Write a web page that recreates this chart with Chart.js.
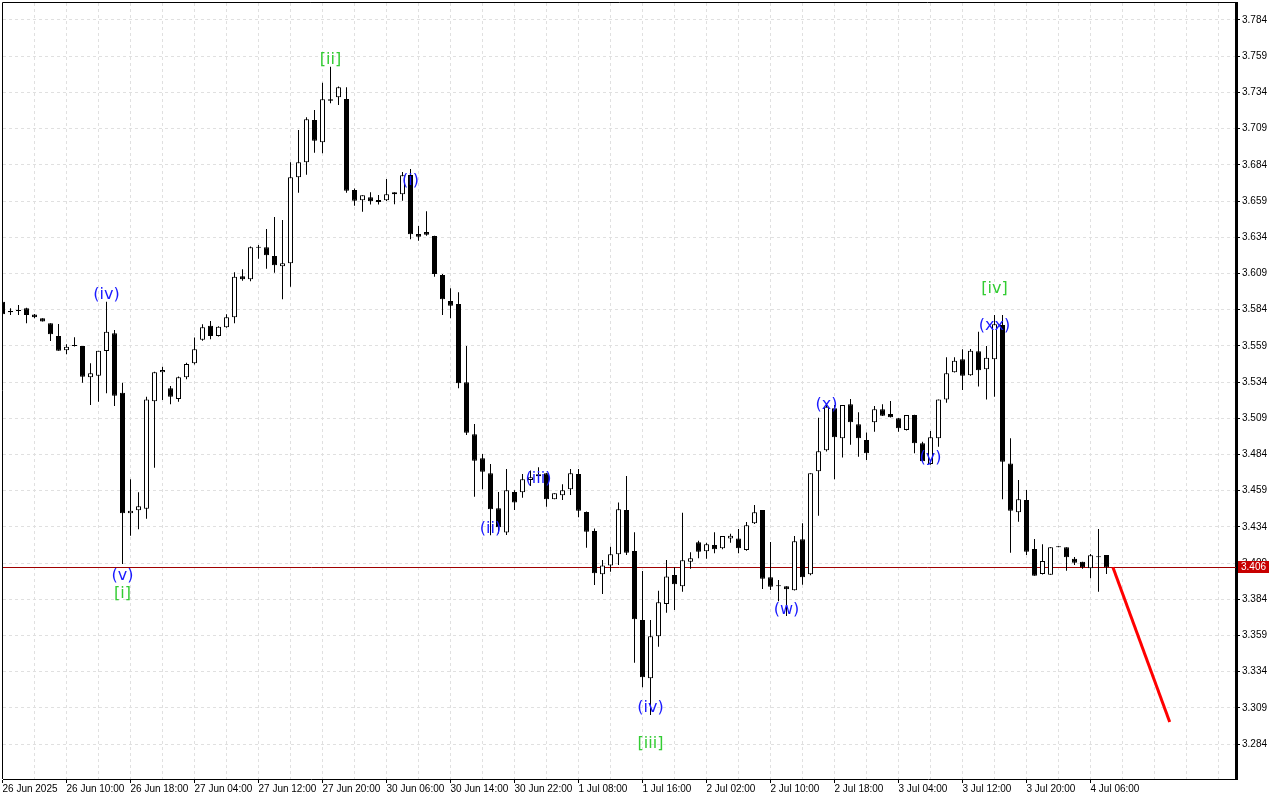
<!DOCTYPE html>
<html><head><meta charset="utf-8">
<script src="https://cdn.jsdelivr.net/npm/chart.js@4.4.1/dist/chart.umd.min.js"></script>
<style>html,body{margin:0;padding:0;background:#fff;}canvas{display:block;}</style>
</head><body>
<canvas id="c" width="1280" height="800"></canvas>
<script>
const opens = [3.5895,3.5822,3.5830,3.5849,3.5807,3.5780,3.5745,3.5658,3.5559,3.5589,
 3.5589,3.5373,3.5383,3.5554,3.5676,3.5266,3.4433,3.4454,3.4465,3.5207,
 3.5407,3.5297,3.5223,3.5373,3.5469,3.5631,3.5729,3.5658,3.5718,3.5787,
 3.6070,3.6049,3.6268,3.6270,3.6210,3.6139,3.6160,3.6754,3.6857,3.7149,
 3.6995,3.7292,3.7306,3.7294,3.6666,3.6595,3.6616,3.6597,3.6595,3.6636,
 3.6636,3.6770,3.6362,3.6376,3.6348,3.6079,3.5899,3.5879,3.5338,3.4979,
 3.4813,3.4709,3.4468,3.4300,3.4580,3.4578,3.4663,3.4689,3.4709,3.4530,
 3.4558,3.4599,3.4705,3.4442,3.4311,3.4012,3.4072,3.4150,3.4456,3.4173,
 3.3696,3.3294,3.3584,3.3807,3.4007,3.3929,3.4099,3.4233,3.4171,3.4214,
 3.4192,3.4260,3.4260,3.4180,3.4364,3.4456,3.3991,3.3929,3.3929,3.3902,
 3.4254,3.4012,3.4723,3.4868,3.5158,3.4951,3.5186,3.5048,3.4939,3.5062,
 3.5151,3.5119,3.5089,3.5009,3.5112,3.4917,3.4774,3.4951,3.5220,3.5407,
 3.5497,3.5386,3.5552,3.5428,3.5497,3.5734,3.4778,3.4440,3.4525,3.4187,
 3.4014,3.4009,3.4198,3.4198,3.4120,3.4099,3.4053,3.4129,3.4145];
const highs = [3.5910,3.5849,3.5872,3.5852,3.5810,3.5780,3.5745,3.5740,3.5600,3.5649,
 3.5589,3.5469,3.5556,3.5895,3.5699,3.5335,3.4668,3.4578,3.5238,3.5410,
 3.5446,3.5312,3.5378,3.5473,3.5647,3.5739,3.5761,3.5725,3.5808,3.6098,
 3.6118,3.6275,3.6286,3.6397,3.6480,3.6459,3.6857,3.7080,3.7168,3.7218,
 3.7407,3.7518,3.7380,3.7375,3.6677,3.6629,3.6650,3.6631,3.6742,3.6650,
 3.6790,3.6811,3.6417,3.6519,3.6350,3.6085,3.5987,3.5960,3.5589,3.5050,
 3.4843,3.4774,3.4580,3.4739,3.4592,3.4705,3.4728,3.4751,3.4712,3.4571,
 3.4633,3.4739,3.4739,3.4445,3.4329,3.4111,3.4203,3.4507,3.4691,3.4302,
 3.4035,3.3696,3.3899,3.4111,3.4060,3.4437,3.4164,3.4244,3.4230,3.4302,
 3.4276,3.4292,3.4325,3.4373,3.4491,3.4456,3.4235,3.3973,3.3929,3.4276,
 3.4364,3.4709,3.5093,3.5181,3.5181,3.5181,3.5223,3.5131,3.4992,3.5174,
 3.5186,3.5209,3.5092,3.5112,3.5114,3.4928,3.5002,3.5220,3.5511,3.5511,
 3.5566,3.5568,3.5687,3.5589,3.5803,3.5803,3.4951,3.4663,3.4594,3.4256,
 3.4219,3.4198,3.4198,3.4198,3.4131,3.4099,3.4153,3.4325,3.4145];
const lows = [3.5800,3.5803,3.5803,3.5745,3.5780,3.5757,3.5623,3.5556,3.5531,3.5585,
 3.5335,3.5181,3.5204,3.5262,3.5174,3.4083,3.4279,3.4323,3.4396,3.4748,
 3.5216,3.5186,3.5204,3.5359,3.5460,3.5625,3.5635,3.5655,3.5715,3.5745,
 3.6040,3.6036,3.6192,3.6122,3.6095,3.5911,3.5998,3.6647,3.6772,3.6924,
 3.6919,3.7265,3.7253,3.6647,3.6558,3.6516,3.6565,3.6565,3.6590,3.6567,
 3.6592,3.6326,3.6316,3.6350,3.6067,3.5803,3.5780,3.5297,3.4974,3.4548,
 3.4599,3.4281,3.4294,3.4283,3.4456,3.4541,3.4622,3.4670,3.4479,3.4530,
 3.4525,3.4560,3.4406,3.4196,3.3938,3.3876,3.4030,3.4076,3.4145,3.3401,
 3.3232,3.3040,3.3512,3.3747,3.3765,3.3892,3.4051,3.4123,3.4120,3.4157,
 3.4185,3.4230,3.4157,3.4175,3.4360,3.3911,3.3904,3.3826,3.3724,3.3900,
 3.3940,3.4005,3.4417,3.4860,3.4668,3.4818,3.4907,3.4824,3.4801,3.4997,
 3.5105,3.5094,3.4997,3.5005,3.4848,3.4790,3.4769,3.4893,3.5197,3.5405,
 3.5285,3.5384,3.5309,3.5220,3.5238,3.4530,3.4161,3.4375,3.4145,3.4002,
 3.4010,3.4009,3.4198,3.4037,3.4076,3.4050,3.3984,3.3892,3.4014];
const closes = [3.5808,3.5830,3.5835,3.5803,3.5787,3.5757,3.5669,3.5556,3.5584,3.5589,
 3.5377,3.5400,3.5556,3.5687,3.5245,3.4433,3.4451,3.4482,3.5220,3.5407,
 3.5423,3.5239,3.5373,3.5464,3.5566,3.5718,3.5658,3.5722,3.5787,3.6067,
 3.6049,3.6270,3.6272,3.6215,3.6146,3.6160,3.6754,3.6857,3.7154,3.7006,
 3.7292,3.7282,3.7375,3.6661,3.6592,3.6629,3.6588,3.6583,3.6636,3.6650,
 3.6767,3.6360,3.6343,3.6357,3.6086,3.5911,3.5867,3.5331,3.4990,3.4796,
 3.4721,3.4461,3.4337,3.4592,3.4507,3.4668,3.4682,3.4703,3.4530,3.4571,
 3.4592,3.4709,3.4451,3.4306,3.4019,3.4072,3.4150,3.4461,3.4161,3.3701,
 3.3301,3.3584,3.3819,3.3996,3.3943,3.4109,3.4123,3.4168,3.4219,3.4185,
 3.4276,3.4278,3.4192,3.4350,3.4440,3.3982,3.3926,3.3929,3.3908,3.4240,
 3.3991,3.4709,3.4861,3.5169,3.4958,3.5181,3.5062,3.4951,3.4848,3.5151,
 3.5107,3.5096,3.5020,3.5112,3.4917,3.4793,3.4958,3.5220,3.5400,3.5487,
 3.5384,3.5556,3.5421,3.5508,3.5739,3.4790,3.4451,3.4530,3.4168,3.4002,
 3.4104,3.4198,3.4198,3.4129,3.4092,3.4060,3.4144,3.4129,3.4060];

// time labels, one every 8 bars (H1 bars)
const timeLabels = ["26 Jun 2025","26 Jun 10:00","26 Jun 18:00","27 Jun 04:00","27 Jun 12:00",
 "27 Jun 20:00","30 Jun 06:00","30 Jun 14:00","30 Jun 22:00","1 Jul 08:00","1 Jul 16:00",
 "2 Jul 02:00","2 Jul 10:00","2 Jul 18:00","3 Jul 04:00","3 Jul 12:00","3 Jul 20:00","4 Jul 06:00"];
const labelEvery = 8;
const gridEvery = 4;
const priceTicks = [3.284,3.309,3.334,3.359,3.384,3.409,3.434,3.459,3.484,3.509,3.534,
 3.559,3.584,3.609,3.634,3.659,3.684,3.709,3.734,3.759,3.784];

// wave labels (bar index, price)
const waveText  = ["(iv)","(v)","[i]","[ii]","(i)","(ii)","(iii)","(iv)","[iii]","(w)","(x)","(y)","(xx)","[iv]"];
const waveBar   = [13, 15, 15, 41, 51, 61, 67, 81, 81, 98, 103, 116, 124, 124];
const wavePrice = [3.5955,3.4014,3.3890,3.7578,3.6742,3.4339,3.4684,3.3102,3.2854,3.3779,3.5195,3.4829,3.5741,3.5996];

// forecast arrow line
const forecastX = [138.8, 145.9];
const forecastY = [3.406, 3.2992];

const xMin = 0.0625, xMax = 154.1875;
const yMin = 3.25983, yMax = 3.79574;

const idx = opens.map((_, i) => i);
const wickData = idx.map(i => ({x: i, y: [lows[i], highs[i]]}));
const bodyData = idx.map(i => ({x: i, y: [Math.min(opens[i], closes[i]), Math.max(opens[i], closes[i])]}));
const lastClose = closes[closes.length - 1];

const noPad = s => { s.paddingTop = 0; s.paddingBottom = 0; s.paddingLeft = 0; s.paddingRight = 0; };

const overlay = {
  id: 'overlay',
  beforeDatasetsDraw(chart) {
    const {ctx, chartArea: a, scales: {y}} = chart;
    const py = Math.round(y.getPixelForValue(lastClose)) + 0.5;
    ctx.save();
    ctx.strokeStyle = '#a00000';
    ctx.lineWidth = 1;
    ctx.beginPath(); ctx.moveTo(a.left, py); ctx.lineTo(a.right, py); ctx.stroke();
    ctx.restore();
  },
  afterDatasetsDraw(chart) {
    const {ctx, scales: {x, y}} = chart;
    ctx.save();
    ctx.font = '16px "DejaVu Sans"';
    ctx.textAlign = 'center';
    ctx.textBaseline = 'middle';
    waveText.forEach((t, k) => {
      ctx.fillStyle = t[0] === '[' ? '#33cc33' : '#1a1aff';
      ctx.fillText(t, x.getPixelForValue(waveBar[k]), y.getPixelForValue(wavePrice[k]) + 1.5);
    });
    ctx.restore();
  },
  afterDraw(chart) {
    const {ctx, chartArea: a, scales: {y}} = chart;
    ctx.save();
    ctx.strokeStyle = '#000';
    ctx.lineWidth = 1;
    ctx.beginPath();
    ctx.moveTo(a.left - 0.5, a.bottom);
    ctx.lineTo(a.left - 0.5, a.top - 0.5);
    ctx.lineTo(a.right, a.top - 0.5);
    ctx.stroke();
    const py = Math.round(y.getPixelForValue(lastClose));
    ctx.fillStyle = '#c80000';
    ctx.fillRect(a.right + 2, py - 6, 31, 12);
    ctx.fillStyle = '#fff';
    ctx.font = '10px "Liberation Sans"';
    ctx.textAlign = 'left';
    ctx.textBaseline = 'middle';
    ctx.fillText(lastClose.toFixed(3), a.right + 5, py + 0.5);
    ctx.restore();
  }
};

Chart.defaults.font.family = '"Liberation Sans", Arial, sans-serif';

new Chart(document.getElementById('c'), {
  type: 'bar',
  data: {
    datasets: [
      {
        type: 'line',
        data: forecastX.map((v, i) => ({x: v, y: forecastY[i]})),
        borderColor: '#ff0000',
        borderWidth: 3,
        pointRadius: 0,
        order: -1
      },
      {
        data: bodyData,
        grouped: false,
        barThickness: 5,
        minBarLength: 1,
        borderWidth: 1,
        borderColor: '#000',
        borderSkipped: false,
        inflateAmount: 0,
        backgroundColor: c => (closes[c.dataIndex] > opens[c.dataIndex] ? '#ffffff' : '#000000'),
        order: 0
      },
      {
        data: wickData,
        grouped: false,
        barThickness: 1,
        minBarLength: 1,
        borderWidth: 0,
        inflateAmount: 0,
        backgroundColor: '#000',
        order: 1
      }
    ]
  },
  options: {
    responsive: false,
    animation: false,
    devicePixelRatio: 1,
    layout: {padding: {left: 3, top: 3, right: 0, bottom: 0}},
    plugins: {legend: {display: false}, tooltip: {enabled: false}},
    scales: {
      x: {
        type: 'linear', min: xMin, max: xMax, offset: false,
        afterBuildTicks: s => { const t = []; for (let v = 0; v <= xMax; v += gridEvery) t.push({value: v}); s.ticks = t; },
        afterFit: s => { s.height = 21; noPad(s); },
        grid: {
          color: '#e0e0e0', offset: false, tickLength: 4, tickBorderDash: [],
          tickColor: c => (c.tick && c.tick.value % labelEvery === 0 && c.tick.value / labelEvery < timeLabels.length) ? '#000' : 'rgba(0,0,0,0)'
        },
        border: {display: true, color: '#000', width: 1, dash: [3, 3]},
        ticks: {
          autoSkip: false, maxRotation: 0, minRotation: 0, align: 'start', padding: 0,
          color: '#000', font: {size: 10},
          callback: v => (v % labelEvery === 0 && v / labelEvery < timeLabels.length) ? timeLabels[v / labelEvery] : ''
        }
      },
      y: {
        position: 'right', min: yMin, max: yMax,
        afterBuildTicks: s => { s.ticks = priceTicks.map(v => ({value: v})); },
        afterFit: s => { s.width = 44; noPad(s); },
        grid: {color: '#e0e0e0', tickLength: 4, tickColor: '#000', tickBorderDash: []},
        border: {display: true, color: '#000', width: 3, dash: [3, 3]},
        ticks: {autoSkip: false, padding: 2, color: '#000', font: {size: 10}, callback: v => v.toFixed(3)}
      }
    }
  },
  plugins: [overlay]
});
</script>
</body></html>
